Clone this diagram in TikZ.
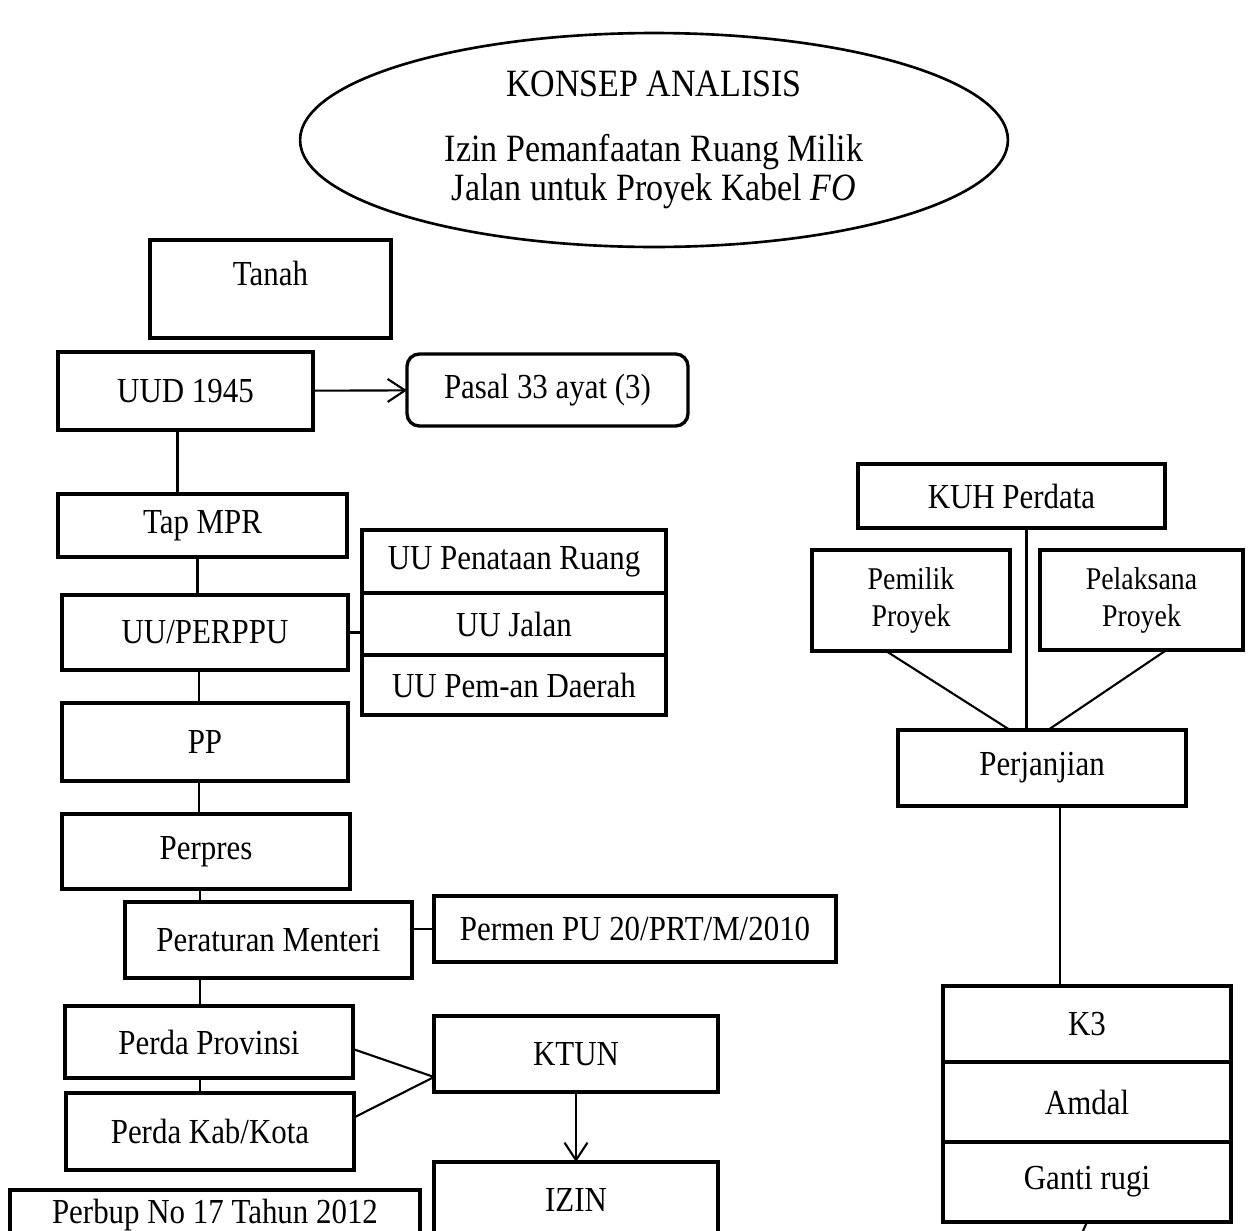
\documentclass[tikz,border=0pt]{standalone}
\usepackage{fontspec}
\setmainfont{Liberation Serif}[FakeStretch=0.88]
\usetikzlibrary{arrows.meta,positioning,shapes.geometric}

\begin{document}
\begin{tikzpicture}[x=0.02cm,y=-0.02cm,
    box/.style={draw,line width=1.9pt,align=center,inner sep=2pt,outer sep=0pt,
      font=\fontsize{20}{24}\selectfont},
    duo/.style={box,font=\fontsize{18}{21}\selectfont},
    link/.style={line width=1.2pt},
    flow/.style={link,-{Straight Barb[length=3.5mm,width=4.6mm]}}
  ]
    \clip (0,0) rectangle (1248,1231);

    \node[ellipse,draw,line width=1.5pt,inner sep=0pt,minimum width=14.16cm,minimum height=4.28cm,
      align=center,font=\fontsize{22}{22}\selectfont] (concept) at (654,140) {
      KONSEP ANALISIS\\[15pt]
      Izin Pemanfaatan Ruang Milik\\
      Jalan untuk Proyek Kabel \textit{FO}
    };

    % hierarki peraturan
    \node[box,minimum width=4.82cm,minimum height=1.96cm,text depth=0.62cm] (tanah) at (270.5,289) {Tanah};
    \node[box,minimum width=5.1cm,minimum height=1.56cm] (uud) at (185.5,391) {UUD 1945};
    \node[box,rounded corners=7pt,minimum width=5.62cm,minimum height=1.44cm] (pasal) at (547.5,390) {Pasal 33 ayat (3)};
    \node[box,minimum width=5.78cm,minimum height=1.26cm] (tap) at (202.5,525.5) {Tap MPR};
    \node[box,minimum width=5.72cm,minimum height=1.5cm] (uu) at (205,632.5) {UU/PERPPU};
    \node[box,minimum width=6.08cm,minimum height=1.26cm] (uupr) at (514,561.5) {UU Penataan Ruang};
    \node[box,minimum width=6.08cm,minimum height=1.24cm,below=0pt of uupr] (jalan) {UU Jalan};
    \node[box,minimum width=6.08cm,minimum height=1.2cm,below=0pt of jalan] (daerah) {UU Pem-an Daerah};
    \node[box,minimum width=5.72cm,minimum height=1.56cm] (pp) at (205,742) {PP};
    \node[box,minimum width=5.76cm,minimum height=1.5cm] (perpres) at (206,851.5) {Perpres};
    \node[box,minimum width=5.74cm,minimum height=1.52cm] (menteri) at (268.5,940) {Peraturan Menteri};
    \node[box,minimum width=8.04cm,minimum height=1.32cm] (permenpu) at (635,929) {Permen PU 20/PRT/M/2010};
    \node[box,minimum width=5.76cm,minimum height=1.44cm] (perdaprov) at (209,1042) {Perda Provinsi};
    \node[box,minimum width=5.76cm,minimum height=1.54cm] (perdakab) at (210,1131.5) {Perda Kab/Kota};
    \node[box,minimum width=5.68cm,minimum height=1.52cm] (ktun) at (576,1054) {KTUN};
    \node[box,minimum width=5.68cm,minimum height=1.52cm] (izin) at (576,1200) {IZIN};
    \node[box,minimum width=8.2cm,minimum height=1cm] (perbup) at (215,1215) {Perbup No 17 Tahun 2012};

    % hubungan para pihak
    \node[box,minimum width=6.14cm,minimum height=1.28cm] (kuh) at (1011.5,496) {KUH Perdata};
    \node[duo,minimum width=3.96cm,minimum height=2.02cm] (pemilik) at (911,600.5) {Pemilik\\Proyek};
    \node[duo,minimum width=4.06cm,minimum height=2cm] (pelaksana) at (1141.5,600) {Pelaksana\\Proyek};
    \node[box,minimum width=5.76cm,minimum height=1.52cm] (perjanjian) at (1042,768) {Perjanjian};
    \node[box,minimum width=5.76cm,minimum height=1.52cm] (k3) at (1087,1024) {K3};
    \node[box,minimum width=5.76cm,minimum height=1.6cm,below=0pt of k3] (amdal) {Amdal};
    \node[box,minimum width=5.76cm,minimum height=1.6cm,below=0pt of amdal] (gantirugi) {Ganti rugi};
    \coordinate (gantitail) at (1079,1240);

    \draw[flow] (uud) -- (pasal);
    \draw[link] ([xshift=-0.16cm]uud.south) -- ([xshift=-0.16cm]uud.south |- tap.north);
    \draw[link] ([xshift=-0.1cm]tap.south) -- ([xshift=-0.1cm]tap.south |- uu.north);
    \draw[link] (uu.east) -- (uu.east -| jalan.west);
    \draw[link] ([xshift=-0.12cm]uu.south) -- ([xshift=-0.12cm]uu.south |- pp.north);
    \draw[link] ([xshift=-0.12cm]pp.south) -- ([xshift=-0.12cm]pp.south |- perpres.north);
    \draw[link] ([xshift=-0.12cm]perpres.south) -- ([xshift=-0.12cm]perpres.south |- menteri.north);
    \draw[link] (permenpu.west) -- (permenpu.west -| menteri.east);
    \draw[link] ([xshift=-0.18cm]perdaprov.north) -- ([xshift=-0.18cm]perdaprov.north |- menteri.south);
    \draw[link] ([xshift=-0.18cm]perdaprov.south) -- ([xshift=-0.18cm]perdaprov.south |- perdakab.north);
    \draw[link] ([yshift=-0.14cm]perdaprov.east) -- ([yshift=-0.46cm]ktun.west);
    \draw[link] ([yshift=0.28cm]perdakab.east) -- ([yshift=-0.46cm]ktun.west);
    \draw[flow] (ktun) -- (izin);

    \draw[link] ([xshift=0.3cm]kuh.south) -- ([xshift=0.3cm]kuh.south |- perjanjian.north);
    \draw[link] ([xshift=-0.5cm]pemilik.south) -- ([xshift=-0.64cm]perjanjian.north);
    \draw[link] ([xshift=0.5cm]pelaksana.south) -- ([xshift=0.12cm]perjanjian.north);
    \draw[link] ([xshift=0.36cm]perjanjian.south) -- ([xshift=0.36cm]perjanjian.south |- k3.north);
    \draw[link] (gantirugi.south) -- (gantitail);
  \end{tikzpicture}
\end{document}
